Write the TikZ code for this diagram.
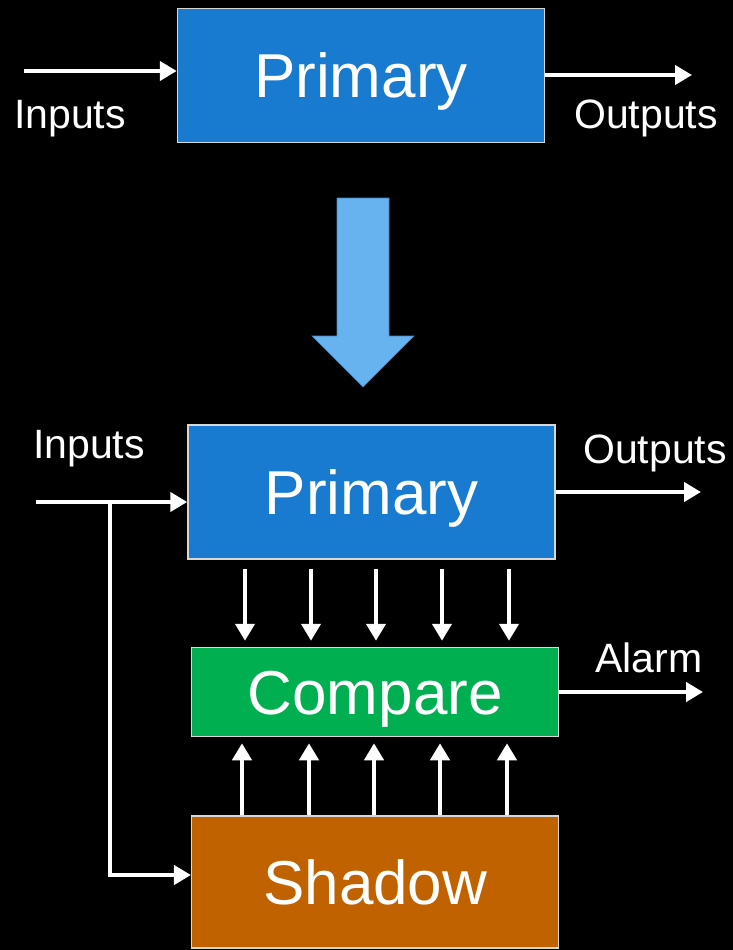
\documentclass[tikz,border=0pt]{standalone}
\usepackage{fontspec}
\setmainfont{Liberation Sans}
\usetikzlibrary{arrows.meta, calc}
\definecolor{primblue}{RGB}{24,123,208}
\definecolor{cmpgreen}{RGB}{0,175,80}
\definecolor{shdorange}{RGB}{192,98,0}
\definecolor{bigarrow}{RGB}{102,179,239}
\definecolor{bigarrowline}{RGB}{70,130,190}
\definecolor{boxline}{RGB}{215,215,215}

\begin{document}
\begin{tikzpicture}[x=1pt, y=-1pt,
  box/.style={draw=boxline, line width=1.5pt, minimum width=367pt, text=white,
    font=\fontsize{62}{62}\selectfont, text height=44pt, text depth=0pt, inner sep=0pt},
  lbl/.style={text=white, font=\fontsize{41}{41}\selectfont, anchor=base, inner sep=0pt},
  arr/.style={draw=white, line width=4.5pt, -{Triangle[length=17pt,width=19pt]}}]
  \fill[black] (0,0) rectangle (733,950);

  % before
  \node[box, fill=primblue, minimum height=134pt] (prim1) at (361,75.5) {Primary};
  \coordinate (in1) at (24,71);
  \coordinate (out1) at (692,75);
  \draw[arr] (in1) -- (in1 -| prim1.west);
  \draw[arr] (prim1.east |- out1) -- (out1);
  \node[lbl] (inlbl1) at (70,128) {Inputs};
  \node[lbl] (outlbl1) at (646,128) {Outputs};

  % big arrow
  \draw[fill=bigarrow, draw=bigarrowline, line width=0.6pt]
    (337,198) -- (389,198) -- (389,336) -- (414,336) -- (363,387)
    -- (312,336) -- (337,336) -- cycle;

  % after
  \node[box, fill=primblue, minimum height=134pt] (prim2) at (371.5,492) {Primary};
  \node[box, fill=cmpgreen, minimum height=89pt] (cmp) at (375.2,692) {Compare};
  \node[box, fill=shdorange, minimum height=132pt] (shd) at (375.2,882) {Shadow};
  \coordinate (in2) at (36,502);
  \coordinate (br) at (110,502);
  \coordinate (out2) at (701,492);
  \coordinate (alarm) at (703,692);
  \draw[arr] (in2) -- (in2 -| prim2.west);
  \draw[arr, line join=miter] (br) |- ([yshift=7pt]shd.west);
  \draw[arr] (prim2.east |- out2) -- (out2);
  \draw[arr] (cmp.east) -- (alarm);
  \foreach \x in {245,311,376,442,509}
    \draw[arr] ($(prim2.south -| \x,0)+(0,9)$) -- ($(cmp.north -| \x,0)+(0,-6)$);
  \foreach \x in {242,309,374,440,507}
    \draw[arr] (shd.north -| \x,0) -- ($(cmp.south -| \x,0)+(0,6)$);
  \node[lbl] (inlbl2) at (89,458) {Inputs};
  \node[lbl] (outlbl2) at (655,463) {Outputs};
  \node[lbl] (alarmlbl) at (649,672) {Alarm};
\end{tikzpicture}
\end{document}
